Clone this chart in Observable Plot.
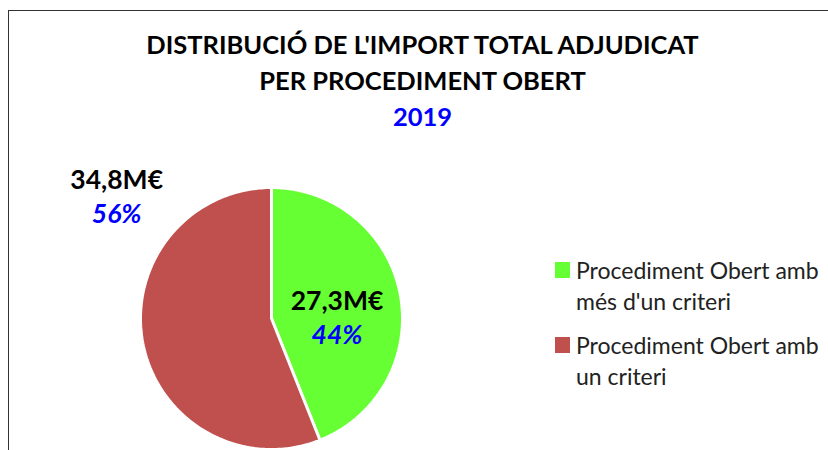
<!DOCTYPE html>
<html>
<head>
<meta charset="utf-8">
<script src="https://cdn.jsdelivr.net/npm/d3@7"></script>
<script src="https://cdn.jsdelivr.net/npm/@observablehq/plot@0.6"></script>
<style>
  html, body { margin: 0; padding: 0; background: #fff; }
  #wrap { position: relative; width: 828px; height: 450px; overflow: hidden; background: #fff; font-family: Lato, "Open Sans", sans-serif; }
  #frame { position: absolute; left: 8px; top: 10px; width: 900px; height: 520px; border: 1.5px solid #333; box-sizing: border-box; }
  #title { position: absolute; left: 0; top: 0; width: 845px; padding-top: 26px; text-align: center; font-weight: 700; font-size: 25.5px; line-height: 36px; color: #000; }
  #title .year { color: #0000ff; }
  #chart { position: absolute; left: 0; top: 140px; }
  #legend { position: absolute; left: 555px; top: 255px; font-size: 23px; line-height: 31px; color: #222; white-space: nowrap; }
  .item { position: relative; padding-left: 21px; margin-bottom: 13px; }
  .sw { position: absolute; left: 0; top: 7px; width: 15px; height: 16px; }
</style>
</head>
<body>
<div id="wrap">
  <div id="frame"></div>
  <div id="title"></div>
  <div id="chart"></div>
  <div id="legend"></div>
</div>
<script>
// ---- data ----
const titleLines = ["DISTRIBUCIÓ DE L'IMPORT TOTAL ADJUDICAT", "PER PROCEDIMENT OBERT"];
const year = "2019";
const categories = ["Procediment Obert amb més d'un criteri", "Procediment Obert amb un criteri"];
const legendLines = [["Procediment Obert amb", "més d'un criteri"], ["Procediment Obert amb", "un criteri"]];
const values = [27.3, 34.8];            // M€
const valueLabels = ["27,3M€", "34,8M€"];
const percentLabels = ["44%", "56%"];
const colors = ["#66ff33", "#c0504d"];

// ---- title ----
document.getElementById("title").innerHTML =
  titleLines.map(t => `<div>${t}</div>`).join("") + `<div class="year">${year}</div>`;

// ---- legend ----
document.getElementById("legend").innerHTML = categories.map((c, i) =>
  `<div class="item"><span class="sw" style="background:${colors[i]}"></span>${legendLines[i].join("<br>")}</div>`
).join("");

// ---- pie geometry (unit circle, angle clockwise from 12 o'clock) ----
const arcs = d3.pie().sort(null).value(d => d)(values);
const slicePts = [];
arcs.forEach((a, i) => {
  const n = 180;
  slicePts.push({cat: categories[i], x: 0, y: 0});
  for (let k = 0; k <= n; k++) {
    const t = a.startAngle + (a.endAngle - a.startAngle) * k / n;
    slicePts.push({cat: categories[i], x: Math.sin(t), y: Math.cos(t)});
  }
  slicePts.push({cat: categories[i], x: 0, y: 0});
});

// label placement (layout): green inside, red outside top-left
const labelPlace = [
  {angle: 90 * Math.PI / 180, r: 0.5},
  {angle: -52 * Math.PI / 180, r: 1.5}
];
const labels = arcs.map((a, i) => {
  const ang = labelPlace[i].angle;
  return {x: labelPlace[i].r * Math.sin(ang), y: labelPlace[i].r * Math.cos(ang), v: valueLabels[i], p: percentLabels[i]};
});

const cx = 271, cy = 178, R = 131;
const chart = Plot.plot({
  width: 828,
  height: 310,
  margin: 0,
  x: {domain: [-1, 1], range: [cx - R, cx + R], axis: null},
  y: {domain: [-1, 1], range: [cy + R, cy - R], axis: null},
  color: {domain: categories, range: colors},
  style: {background: "transparent", fontFamily: "Lato, sans-serif"},
  marks: [
    Plot.line(slicePts, {x: "x", y: "y", z: "cat", fill: "cat", stroke: "white", strokeWidth: 3, strokeLinejoin: "miter"}),
    Plot.text(labels, {x: "x", y: "y", text: "v", dy: -17, fontSize: 26.5, fontWeight: "bold", fill: "#000"}),
    Plot.text(labels, {x: "x", y: "y", text: "p", dy: 17, fontSize: 26.5, fontWeight: "bold", fontStyle: "italic", fill: "#0000ff"})
  ]
});
document.getElementById("chart").appendChild(chart);
</script>
</body>
</html>
